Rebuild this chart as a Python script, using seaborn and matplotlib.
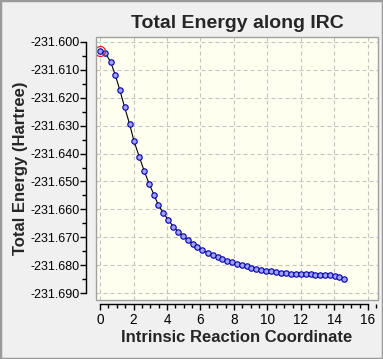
import numpy as np
import pandas as pd
import seaborn as sns
import matplotlib
matplotlib.use("Agg")
import matplotlib.pyplot as plt
from matplotlib.patches import Rectangle
from matplotlib.ticker import MultipleLocator, FormatStrFormatter

# IRC points
irc_coord = [0.00, 0.32, 0.64, 0.92, 1.18, 1.47, 1.77, 2.03, 2.35, 2.64,
             2.94, 3.24, 3.48, 3.78, 4.08, 4.38, 4.66, 4.94, 5.25, 5.53,
             5.81, 6.11, 6.43, 6.73, 7.03, 7.30, 7.58, 7.88, 8.16, 8.46,
             8.76, 9.03, 9.31, 9.61, 9.89, 10.19, 10.49, 10.79, 11.09, 11.39,
             11.68, 11.98, 12.28, 12.58, 12.85, 13.15, 13.45, 13.73, 14.01, 14.29,
             14.55]
energy = [-231.6031, -231.6040, -231.6072, -231.6120, -231.6172, -231.6234, -231.6295,
          -231.6356, -231.6412, -231.6463, -231.6509, -231.6550, -231.6584, -231.6613,
          -231.6638, -231.6662, -231.6680, -231.6694, -231.6710, -231.6724, -231.6736,
          -231.6746, -231.6755, -231.6764, -231.6772, -231.6777, -231.6784, -231.6790,
          -231.6796, -231.6801, -231.6804, -231.6809, -231.6813, -231.6816, -231.6820,
          -231.6822, -231.6825, -231.6827, -231.6829, -231.6831, -231.6832, -231.6833,
          -231.6833, -231.6833, -231.6834, -231.6834, -231.6835, -231.6836, -231.6840,
          -231.6844, -231.6849]
current_point = 0

title = "Total Energy along IRC"
xlabel = "Intrinsic Reaction Coordinate"
ylabel = "Total Energy (Hartree)"

df = pd.DataFrame({"x": irc_coord, "y": energy})

sns.set_style("white")
plt.rcParams["font.family"] = ["Liberation Sans", "DejaVu Sans"]
plt.rcParams["axes.unicode_minus"] = False

fig = plt.figure(figsize=(3.83, 3.59), dpi=100, facecolor="#f0f0f0")
ax = fig.add_axes([96 / 383, 59 / 359, 282 / 383, 263.3 / 359])
ax.set_facecolor("#fffff0")

sns.lineplot(data=df, x="x", y="y", ax=ax, color="black", linewidth=0.8,
             marker="o", markersize=3.9, markerfacecolor="#a0a0ff",
             markeredgecolor="#0000a8", markeredgewidth=0.8, sort=False)
ax.plot(irc_coord[current_point], energy[current_point], marker="o", ms=7.2,
        mfc="none", mec="#e02020", mew=0.9, ls="none")

ax.set_xlim(-0.24, 16.6)
ax.set_ylim(-231.6925, -231.5981)

ax.xaxis.set_major_locator(MultipleLocator(2))
ax.xaxis.set_minor_locator(MultipleLocator(0.5))
ax.yaxis.set_major_locator(MultipleLocator(0.01))
ax.yaxis.set_minor_locator(MultipleLocator(0.005))
ax.yaxis.set_major_formatter(FormatStrFormatter("%.3f"))

ax.grid(True, which="major", color="#c4c4c4", linestyle=(0, (3.6, 2.7)), linewidth=0.8)

for side in ["top", "right"]:
    ax.spines[side].set_visible(False)
ax.spines["left"].set_position(("outward", 7.2))
ax.spines["bottom"].set_position(("outward", 2.9))
ax.spines["left"].set_bounds(-231.690, -231.600)
ax.spines["bottom"].set_bounds(0, 16)
for side in ["left", "bottom"]:
    ax.spines[side].set_color("black")
    ax.spines[side].set_linewidth(1.0)

ax.tick_params(axis="both", which="major", direction="out", length=4.3, width=1.0,
               color="black", labelcolor="black")
ax.tick_params(axis="both", which="minor", direction="out", length=2.9, width=1.0,
               color="black")
ax.tick_params(axis="y", which="major", pad=0.5, labelsize=9)
ax.tick_params(axis="x", which="major", pad=2.5, labelsize=9.8)
ax.tick_params(axis="both", which="both", left=True, bottom=True)

ax.add_patch(Rectangle((0, 0), 1, 1, transform=ax.transAxes, fill=False,
                       edgecolor="#a0a0a0", linewidth=1.0, clip_on=False, zorder=5))

ax.set_title(title, fontsize=14, fontweight="bold", pad=6)
ax.set_xlabel(xlabel, fontsize=12, fontweight="bold")
ax.set_ylabel(ylabel, fontsize=12, fontweight="bold")
ax.xaxis.set_label_coords(0.5, -0.115)
ax.yaxis.set_label_coords(-0.24, 0.5)

fig.add_artist(Rectangle((0, 0), 1, 1, transform=fig.transFigure, fill=False,
                         edgecolor="#9a9a9a", linewidth=2.5))

fig.savefig("out.png", dpi=100, facecolor=fig.get_facecolor())
